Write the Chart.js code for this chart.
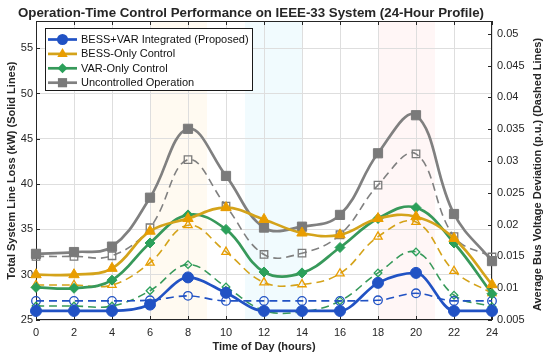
<!DOCTYPE html>
<html>
<head>
<meta charset="utf-8">
<script src="https://cdn.jsdelivr.net/npm/chart.js@4"></script>
<style>
  html, body { margin: 0; padding: 0; background: #fff; }
</style>
</head>
<body>
<canvas id="ctrl_chart" width="550" height="357"></canvas>
<script>
// 24-hour profile, markers every 2 hours
const hours = [0, 2, 4, 6, 8, 10, 12, 14, 16, 18, 20, 22, 24];

const series_names = ['BESS+VAR Integrated (Proposed)', 'BESS-Only Control', 'VAR-Only Control', 'Uncontrolled Operation'];

// total system line loss (kW) - solid lines, left axis
const loss_bess_var = [26.0, 26.0, 26.0, 26.7, 29.7, 28.0, 26.0, 26.0, 26.0, 29.1, 30.2, 26.0, 26.0];
const loss_bess_only = [30.0, 30.0, 30.7, 34.8, 36.2, 37.4, 36.1, 34.6, 34.4, 36.2, 36.4, 34.0, 28.9];
const loss_var_only = [28.6, 28.5, 29.4, 33.5, 36.6, 35.0, 30.3, 30.2, 33.0, 36.2, 37.4, 33.5, 27.9];
const loss_uncontrolled = [32.3, 32.5, 33.1, 38.5, 46.1, 40.9, 35.2, 35.3, 36.6, 43.4, 47.6, 36.7, 31.5];

// average bus voltage deviation (p.u.) - dashed lines, right axis
const volt_bess_var = [0.0080, 0.0080, 0.0080, 0.0081, 0.0088, 0.0080, 0.0080, 0.0080, 0.0080, 0.0081, 0.0092, 0.0080, 0.0080];
const volt_bess_only = [0.0105, 0.0105, 0.0105, 0.0140, 0.0199, 0.0157, 0.0109, 0.0106, 0.0123, 0.0181, 0.0204, 0.0127, 0.0092];
const volt_var_only = [0.0072, 0.0072, 0.0072, 0.0096, 0.0137, 0.0102, 0.0065, 0.0063, 0.0080, 0.0124, 0.0157, 0.0089, 0.0071];
const volt_uncontrolled = [0.0150, 0.0150, 0.0151, 0.0195, 0.0302, 0.0229, 0.0153, 0.0155, 0.0184, 0.0262, 0.0311, 0.0181, 0.0149];

// highlighted periods (hours)
const band_ranges = [[6, 9], [11, 14], [18, 21]];
const band_colors = ['#fffaf1', '#f1fbfe', '#fff6f6'];

const line_colors = ['#2152c4', '#d4a31a', '#37995a', '#808080'];
const marker_colors = ['#2152c4', '#e99d00', '#2ba05a', '#7a7a7a'];
const marker_styles = ['circle', 'triangle', 'rectRot', 'rect'];
const marker_sizes = [5.5, 6, 5, 6.5];

const chart_title = 'Operation-Time Control Performance on IEEE-33 System (24-Hour Profile)';
const text_color = '#262626';
const font_family = "'Liberation Sans', Arial, sans-serif";

function to_points(values) {
  return hours.map((h, i) => ({ x: h, y: values[i] }));
}

const loss_series = [loss_bess_var, loss_bess_only, loss_var_only, loss_uncontrolled];
const volt_series = [volt_bess_var, volt_bess_only, volt_var_only, volt_uncontrolled];

const datasets = [];
loss_series.forEach((values, i) => {
  datasets.push({
    label: series_names[i],
    data: to_points(values),
    yAxisID: 'y',
    borderColor: line_colors[i],
    borderWidth: 2.7,
    pointStyle: marker_styles[i],
    pointRadius: marker_sizes[i],
    pointBackgroundColor: marker_colors[i],
    pointBorderColor: marker_colors[i],
    pointBorderWidth: 1,
    // flat stretches stay flat for the proposed scheme
    cubicInterpolationMode: i === 0 ? 'monotone' : 'default',
    tension: 0.4,
    clip: false
  });
});
volt_series.forEach((values, i) => {
  datasets.push({
    label: series_names[i] + ' (voltage)',
    data: to_points(values),
    yAxisID: 'y1',
    borderColor: line_colors[i],
    borderWidth: 1.6,
    borderDash: [8, 5],
    pointStyle: marker_styles[i],
    pointRadius: marker_sizes[i] - 1.2,
    pointBackgroundColor: 'rgba(255,255,255,0)',
    pointBorderColor: marker_colors[i],
    pointBorderWidth: 1.3,
    cubicInterpolationMode: i === 0 ? 'monotone' : 'default',
    tension: 0.4,
    clip: false
  });
});

// shaded periods behind the grid, plus the title
const bands_plugin = {
  id: 'bands',
  beforeDraw(chart) {
    const { ctx, chartArea, scales } = chart;
    ctx.save();
    band_ranges.forEach((r, i) => {
      const x0 = scales.x.getPixelForValue(r[0]);
      const x1 = scales.x.getPixelForValue(r[1]);
      ctx.fillStyle = band_colors[i];
      ctx.fillRect(x0, chartArea.top, x1 - x0, chartArea.bottom - chartArea.top);
    });
    ctx.fillStyle = text_color;
    ctx.font = 'bold 13.3px ' + font_family;
    ctx.textAlign = 'center';
    ctx.textBaseline = 'middle';
    ctx.fillText(chart_title, 251, 13);
    ctx.restore();
  }
};

// matlab style box, inner ticks and the rotated right axis title
const box_plugin = {
  id: 'box',
  beforeDatasetsDraw(chart) {
    const { ctx, chartArea, scales } = chart;
    const { left, right, top, bottom } = chartArea;
    ctx.save();
    ctx.strokeStyle = text_color;
    ctx.lineWidth = 1;
    ctx.strokeRect(left + 0.5, top + 0.5, right - left - 1, bottom - top - 1);
    ctx.beginPath();
    scales.x.ticks.forEach(t => {
      const px = Math.round(scales.x.getPixelForValue(t.value)) + 0.5;
      ctx.moveTo(px, bottom); ctx.lineTo(px, bottom - 4);
      ctx.moveTo(px, top); ctx.lineTo(px, top + 4);
    });
    scales.y.ticks.forEach(t => {
      const py = Math.round(scales.y.getPixelForValue(t.value)) + 0.5;
      ctx.moveTo(left, py); ctx.lineTo(left + 4, py);
    });
    scales.y1.ticks.forEach(t => {
      const py = Math.round(scales.y1.getPixelForValue(t.value)) + 0.5;
      ctx.moveTo(right, py); ctx.lineTo(right - 4, py);
    });
    ctx.stroke();

    ctx.translate(538, (top + bottom) / 2 + 4);
    ctx.rotate(-Math.PI / 2);
    ctx.fillStyle = text_color;
    ctx.font = 'bold 11px ' + font_family;
    ctx.textAlign = 'center';
    ctx.textBaseline = 'middle';
    ctx.fillText('Average Bus Voltage Deviation (p.u.) (Dashed Lines)', 0, 0);
    ctx.restore();
  }
};

function draw_marker(ctx, style, x, y, r) {
  ctx.beginPath();
  if (style === 'circle') {
    ctx.arc(x, y, r, 0, Math.PI * 2);
  } else if (style === 'triangle') {
    ctx.moveTo(x, y - r);
    ctx.lineTo(x + r * 0.866, y + r * 0.5);
    ctx.lineTo(x - r * 0.866, y + r * 0.5);
    ctx.closePath();
  } else if (style === 'rectRot') {
    ctx.moveTo(x, y - r); ctx.lineTo(x + r, y); ctx.lineTo(x, y + r); ctx.lineTo(x - r, y);
    ctx.closePath();
  } else {
    const s = r * Math.SQRT1_2;
    ctx.rect(x - s, y - s, 2 * s, 2 * s);
  }
  ctx.fill();
}

// legend box in the upper left of the plot
const legend_plugin = {
  id: 'legend_box',
  afterDraw(chart) {
    const { ctx } = chart;
    ctx.save();
    ctx.fillStyle = '#ffffff';
    ctx.fillRect(45, 28, 207, 62);
    ctx.strokeStyle = '#1a1a1a';
    ctx.lineWidth = 1;
    ctx.strokeRect(45.5, 28.5, 207, 62);
    series_names.forEach((name, i) => {
      const y = 39.5 + i * 14.4;
      ctx.strokeStyle = line_colors[i];
      ctx.lineWidth = 2.7;
      ctx.beginPath();
      ctx.moveTo(48, y); ctx.lineTo(77, y);
      ctx.stroke();
      ctx.fillStyle = marker_colors[i];
      draw_marker(ctx, marker_styles[i], 62.5, y, marker_sizes[i]);
      ctx.fillStyle = '#111';
      ctx.font = '11px ' + font_family;
      ctx.textBaseline = 'middle';
      ctx.fillText(name, 81, y + 0.5);
    });
    ctx.restore();
  }
};

const ctx = document.getElementById('ctrl_chart').getContext('2d');

const ctrl_chart = new Chart(ctx, {
  type: 'line',
  data: { datasets: datasets },
  plugins: [bands_plugin, box_plugin, legend_plugin],
  options: {
    responsive: false,
    animation: false,
    layout: { padding: { top: 21 } },
    plugins: {
      legend: { display: false },
      tooltip: { enabled: false },
      title: { display: false }
    },
    scales: {
      x: {
        type: 'linear',
        min: 0,
        max: 24,
        ticks: { stepSize: 2, padding: 6, color: text_color, font: { family: font_family, size: 11 }, maxRotation: 0 },
        grid: { color: '#dedede', drawTicks: false },
        border: { display: false },
        title: {
          display: true,
          text: 'Time of Day (hours)',
          color: text_color,
          font: { family: font_family, size: 11, weight: 'bold', lineHeight: 1.2 },
          padding: { top: 0, bottom: 3.5 }
        },
        afterFit: s => { s.height = 37; }
      },
      y: {
        type: 'linear',
        position: 'left',
        min: 25,
        max: 58,
        ticks: { stepSize: 5, includeBounds: false, padding: 3, color: text_color, font: { family: font_family, size: 11 } },
        grid: { color: '#dedede', drawTicks: false },
        border: { display: false },
        title: {
          display: true,
          text: 'Total System Line Loss (kW) (Solid Lines)',
          color: text_color,
          font: { family: font_family, size: 11, weight: 'bold', lineHeight: 1.2 },
          padding: { top: 5.5, bottom: 0 }
        },
        afterFit: s => { s.width = 36; }
      },
      y1: {
        type: 'linear',
        position: 'right',
        min: 0.005,
        max: 0.052,
        ticks: {
          stepSize: 0.005,
          includeBounds: false,
          padding: 5,
          color: text_color,
          font: { family: font_family, size: 11 },
          callback: v => String(+v.toFixed(3))
        },
        grid: { display: false, drawTicks: false },
        border: { display: false },
        afterFit: s => { s.width = 58; }
      }
    }
  }
});
</script>
</body>
</html>
